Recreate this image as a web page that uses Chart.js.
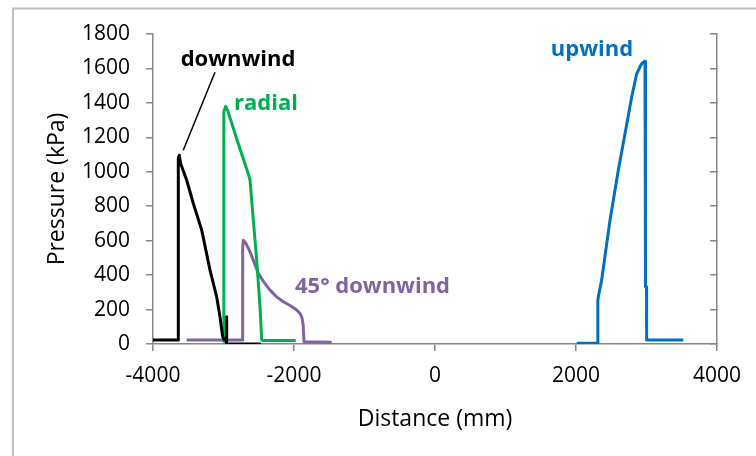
<!DOCTYPE html>
<html>
<head>
<meta charset="utf-8">
<script src="https://cdn.jsdelivr.net/npm/chart.js@4.4.1/dist/chart.umd.min.js"></script>
<style>
  html, body { margin: 0; padding: 0; background: #fff; }
  canvas { display: block; }
</style>
</head>
<body>
<canvas id="pressureChart" width="756" height="456"></canvas>
<script>
// --- data (distance in mm, pressure in kPa) ---
const downwindX = [-4000, -3641, -3641, -3627, -3607, -3522, -3428, -3309, -3191, -3097, -3050, -3012, -2990, -2958, -2956, -2955, -2470];
const downwindP = [23, 23, 1080, 1096, 1047, 951, 816, 661, 429, 274, 158, 43, 25, 25, 158, 0, 0];

const radialX = [-3000, -2995, -2969, -2941, -2790, -2648, -2624, -2577, -2529, -2482, -2458, -2440, -1975];
const radialP = [10, 1350, 1380, 1356, 1163, 989, 951, 719, 487, 216, 23, 20, 20];

const diag45X = [-3522, -2728, -2728, -2719, -2690, -2640, -2577, -2506, -2420, -2340, -2250, -2152, -2050, -1962, -1910, -1885, -1870, -1858, -1465];
const diag45P = [23, 23, 560, 603, 590, 550, 487, 410, 355, 313, 275, 245, 222, 197, 175, 150, 110, 13, 10];

const upwindX = [2010, 2302, 2310, 2316, 2364, 2482, 2600, 2695, 2790, 2861, 2920, 2955, 2979, 2986, 2986, 3000, 3002, 3522];
const upwindP = [4, 4, 250, 274, 371, 719, 1009, 1221, 1434, 1569, 1620, 1637, 1642, 1640, 332, 332, 23, 23];

const seriesNames = ['downwind', 'radial', '45° downwind', 'upwind'];
const seriesColors = ['#000000', '#00B050', '#8064A2', '#0070C0'];

const xTicks = [-4000, -2000, 0, 2000, 4000];
const yTicks = [0, 200, 400, 600, 800, 1000, 1200, 1400, 1600, 1800];

function toPoints(xs, ys) {
    return xs.map((x, i) => ({ x: x, y: ys[i] }));
}

const axisGray = '#868686';
const fontFamily = "'Open Sans', 'Liberation Sans', sans-serif";

// outer frame of the chart object (left and top edges visible)
const framePlugin = {
    id: 'frame',
    beforeDraw(chart) {
        const ctx = chart.ctx;
        ctx.save();
        ctx.strokeStyle = '#BFBFBF';
        ctx.lineWidth = 2;
        ctx.strokeRect(13, 8.5, 900, 600);
        ctx.restore();
    }
};

// series labels written next to the curves, like in the original figure
const seriesLabels = {
    id: 'seriesLabels',
    afterDatasetsDraw(chart) {
        const ctx = chart.ctx;
        const xs = chart.scales.x;
        const ys = chart.scales.y;
        const px = v => xs.getPixelForValue(v);
        const py = v => ys.getPixelForValue(v);
        ctx.save();
        ctx.font = 'bold 22px ' + fontFamily;
        ctx.textBaseline = 'alphabetic';

        // leader line for "downwind"
        ctx.strokeStyle = seriesColors[0];
        ctx.lineWidth = 1.5;
        ctx.beginPath();
        ctx.moveTo(px(-3121), py(1578));
        ctx.lineTo(px(-3571), py(1125));
        ctx.stroke();

        ctx.textAlign = 'center';
        ctx.fillStyle = seriesColors[0];
        ctx.fillText(seriesNames[0], px(-2794), py(1617));
        ctx.fillStyle = seriesColors[1];
        ctx.fillText(seriesNames[1], px(-2397), py(1357));
        ctx.fillStyle = seriesColors[3];
        ctx.fillText(seriesNames[3], px(2227), py(1672));
        ctx.textAlign = 'left';
        ctx.fillStyle = seriesColors[2];
        ctx.fillText(seriesNames[2], px(-1986), py(294));
        ctx.restore();
    }
};

const lineStyle = (i) => ({
    label: seriesNames[i],
    borderColor: seriesColors[i],
    backgroundColor: seriesColors[i],
    borderWidth: 3,
    pointRadius: 0,
    showLine: true,
    tension: 0,
    fill: false,
    borderJoinStyle: 'round'
});

const plainNumber = (value) => String(value);

new Chart(document.getElementById('pressureChart'), {
    type: 'scatter',
    data: {
        datasets: [
            Object.assign(lineStyle(0), { data: toPoints(downwindX, downwindP) }),
            Object.assign(lineStyle(1), { data: toPoints(radialX, radialP) }),
            Object.assign(lineStyle(2), { data: toPoints(diag45X, diag45P) }),
            Object.assign(lineStyle(3), { data: toPoints(upwindX, upwindP) })
        ]
    },
    options: {
        responsive: false,
        animation: false,
        layout: { padding: { top: 34, left: 0, right: 0, bottom: 0 } },
        plugins: {
            legend: { display: false },
            tooltip: { enabled: false }
        },
        scales: {
            x: {
                type: 'linear',
                position: 'bottom',
                min: xTicks[0],
                max: xTicks[xTicks.length - 1],
                afterBuildTicks: s => { s.ticks = xTicks.map(v => ({ value: v })); },
                afterFit: s => { s.height = 112; },
                ticks: {
                    color: '#000',
                    font: { family: fontFamily, size: 21 },
                    padding: 12,
                    maxRotation: 0,
                    callback: plainNumber
                },
                grid: { drawOnChartArea: false, drawTicks: true, tickLength: 7, color: axisGray, lineWidth: 1.5 },
                border: { color: axisGray, width: 1.5 },
                title: {
                    display: true,
                    text: 'Distance (mm)',
                    color: '#000',
                    font: { family: fontFamily, size: 23 },
                    padding: { top: 0, bottom: 23 }
                }
            },
            y: {
                type: 'linear',
                position: 'left',
                min: yTicks[0],
                max: yTicks[yTicks.length - 1],
                afterBuildTicks: s => { s.ticks = yTicks.map(v => ({ value: v })); },
                afterFit: s => { s.width = 153; },
                ticks: {
                    color: '#000',
                    font: { family: fontFamily, size: 21 },
                    padding: 16,
                    callback: plainNumber
                },
                grid: { drawOnChartArea: false, drawTicks: true, tickLength: 7, color: axisGray, lineWidth: 1.5 },
                border: { color: axisGray, width: 1.5 },
                title: {
                    display: true,
                    text: 'Pressure (kPa)',
                    color: '#000',
                    font: { family: fontFamily, size: 23 },
                    padding: { top: 44, bottom: 0 }
                }
            },
            y2: {
                type: 'linear',
                position: 'right',
                min: yTicks[0],
                max: yTicks[yTicks.length - 1],
                afterBuildTicks: s => { s.ticks = yTicks.map(v => ({ value: v })); },
                afterFit: s => { s.width = 39; },
                ticks: { display: false },
                grid: { drawOnChartArea: false, drawTicks: true, tickLength: -7, color: axisGray, lineWidth: 1.5 },
                border: { color: axisGray, width: 1.5 }
            }
        }
    },
    plugins: [framePlugin, seriesLabels]
});
</script>
</body>
</html>
